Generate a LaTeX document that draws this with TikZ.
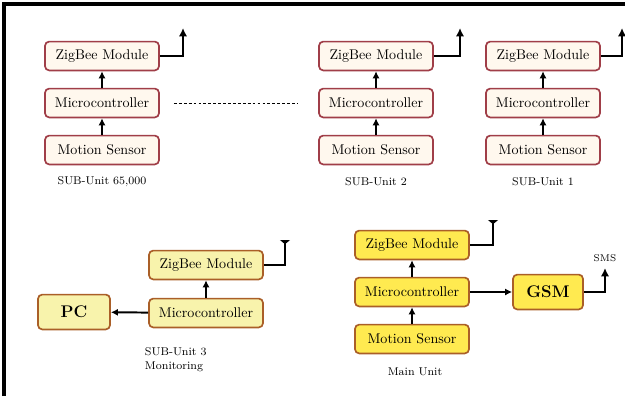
\documentclass[tikz,border=0pt]{standalone}
\usepackage{tikz}
\usepackage{amsmath}
\usepackage{xcolor}
\usetikzlibrary{shapes,arrows.meta,positioning,calc}

\definecolor{subfill}{RGB}{255,248,238}
\definecolor{subline}{RGB}{160,62,72}
\definecolor{mainfill}{RGB}{255,234,80}
\definecolor{monfill}{RGB}{248,243,172}
\definecolor{mainline}{RGB}{170,95,40}

\begin{document}
\begin{tikzpicture}[x=0.025cm, y=0.025cm,
    blk/.style={rectangle, rounded corners=3pt, draw, line width=1.2pt, minimum width=2.85cm, minimum height=0.72cm, inner sep=2pt},
    subblk/.style={blk, draw=subline, fill=subfill},
    mainblk/.style={blk, draw=mainline, fill=mainfill},
    monblk/.style={blk, draw=mainline, fill=monfill},
    link/.style={-{Latex[length=5pt,width=5pt]}, line width=1.2pt},
    ant/.style={-{Latex[length=6pt,width=6pt]}, line width=1.3pt},
    tbar/.style={-{Triangle[reversed,length=3pt,width=7pt]}, line width=1.3pt},
    unitlabel/.style={font=\footnotesize}]
    \useasboundingbox (0,0) rectangle (625,-396);
    \draw[line width=2.2pt] (4,-396) -- (4,-4) -- (625,-4);

    % sub units on top row
    \node[subblk] (zA) at (102, -56) {ZigBee Module};
    \node[subblk] (mA) at (102, -103) {Microcontroller};
    \node[subblk] (sA) at (102, -150) {Motion Sensor};
    \node[unitlabel] (lA) at (102, -182) {SUB-Unit 65,000};

    \node[subblk] (zB) at (376, -56) {ZigBee Module};
    \node[subblk] (mB) at (376, -103) {Microcontroller};
    \node[subblk] (sB) at (376, -150) {Motion Sensor};
    \node[unitlabel] (lB) at (376, -182) {SUB-Unit 2};

    \node[subblk] (zC) at (543, -56) {ZigBee Module};
    \node[subblk] (mC) at (543, -103) {Microcontroller};
    \node[subblk] (sC) at (543, -150) {Motion Sensor};
    \node[unitlabel] (lC) at (543, -182) {SUB-Unit 1};

    \coordinate (tA) at (183, -28);
    \coordinate (tB) at (460, -28);
    \coordinate (tC) at (622, -28);

    \draw[link] (sA) -- (mA);
    \draw[link] (mA) -- (zA);
    \draw[ant] (zA.east) -| (tA);
    \draw[link] (sB) -- (mB);
    \draw[link] (mB) -- (zB);
    \draw[ant] (zB.east) -| (tB);
    \draw[link] (sC) -- (mC);
    \draw[link] (mC) -- (zC);
    \draw[ant] (zC.east) -| (tC);
    \draw[line width=0.7pt, dash pattern=on 2pt off 1.5pt] ([xshift=10pt]mA.east) -- ([xshift=-15pt]mB.west);

    % monitoring unit
    \node[monblk] (zM) at (206, -265) {ZigBee Module};
    \node[monblk] (mM) at (206, -313) {Microcontroller};
    \node[monblk, minimum width=1.8cm, minimum height=0.87cm, font=\large\bfseries] (pc) at (74, -312) {PC};
    \node[unitlabel, align=left, anchor=north west] (lM) at (140, -343) {SUB-Unit 3\\Monitoring};
    \coordinate (tM) at (285, -240);
    \draw[link] (mM) -- (zM);
    \draw[link, line width=1.4pt] (mM) -- (pc);
    \draw[tbar] (zM.east) -| (tM);

    % main unit
    \node[mainblk] (zN) at (412, -245) {ZigBee Module};
    \node[mainblk] (mN) at (412, -292) {Microcontroller};
    \node[mainblk] (sN) at (412, -339) {Motion Sensor};
    \node[unitlabel] (lN) at (415, -372) {Main Unit};
    \node[mainblk, minimum width=1.75cm, minimum height=0.87cm, font=\large\bfseries] (gsm) at (548, -292) {GSM};
    \coordinate (tN) at (493, -220);
    \coordinate (tG) at (605, -268);
    \node[font=\scriptsize] (sms) at (605, -258) {SMS};
    \draw[link] (sN) -- (mN);
    \draw[link] (mN) -- (zN);
    \draw[tbar] (zN.east) -| (tN);
    \draw[link, line width=1.4pt] (mN) -- (gsm);
    \draw[ant] (gsm.east) -| (tG);
\end{tikzpicture}
\end{document}
